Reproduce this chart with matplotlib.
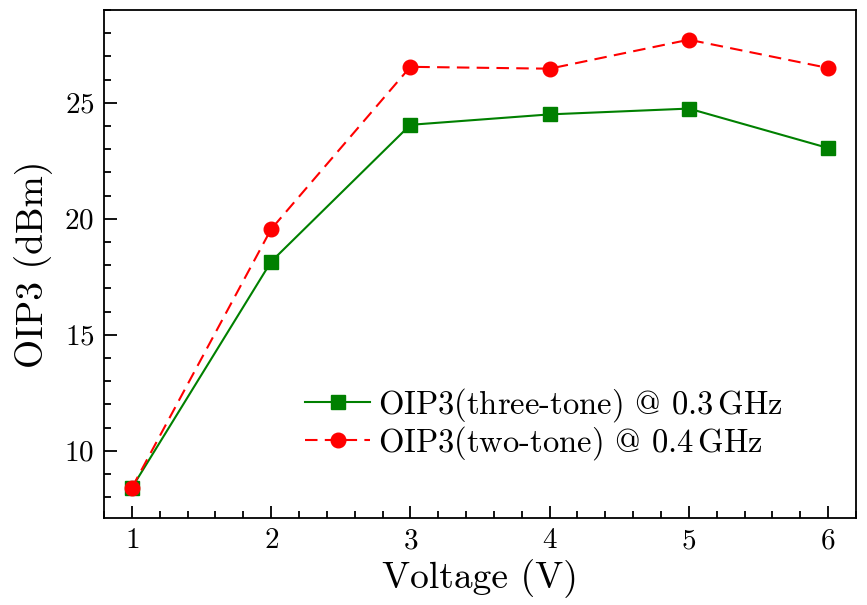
import matplotlib
matplotlib.use("Agg")
import matplotlib.pyplot as plt
from matplotlib.ticker import MultipleLocator

plt.rcParams['font.family'] = ['cmr10', 'DejaVu Serif']
plt.rcParams['mathtext.fontset'] = 'cm'
plt.rcParams['axes.formatter.use_mathtext'] = True

voltage = [1, 2, 3, 4, 5, 6]
three_tone = [8.4, 18.15, 24.05, 24.5, 24.75, 23.05]
two_tone = [8.4, 19.55, 26.55, 26.47, 27.72, 26.5]
label_three = "OIP3(three-tone) @ 0.3$\\,$GHz"
label_two = "OIP3(two-tone) @ 0.4$\\,$GHz"

fig = plt.figure(figsize=(8.67, 6.05), dpi=100)
ax = fig.add_axes([104/867, 1-518/605, (856-104)/867, (518-10)/605])

ax.plot(voltage, three_tone, color='green', linestyle='-', marker='s',
        markersize=9.5, linewidth=1.5, label=label_three)
ax.plot(voltage, two_tone, color='red', linestyle=(0, (6, 3.5)), marker='o',
        markersize=10.5, linewidth=1.5, label=label_two)

ax.set_xlim(0.8, 6.2)
ax.set_ylim(7.1, 29.0)
ax.xaxis.set_major_locator(MultipleLocator(1))
ax.xaxis.set_minor_locator(MultipleLocator(0.2))
ax.yaxis.set_major_locator(MultipleLocator(5))
ax.yaxis.set_minor_locator(MultipleLocator(1))
ax.tick_params(which='both', direction='in', top=False, right=False, labelsize=21, width=1.3)
ax.tick_params(which='major', length=9, pad=7)
ax.tick_params(which='minor', length=5)
for s in ax.spines.values():
    s.set_linewidth(1.3)

ax.set_xlabel('Voltage (V)', fontsize=27, labelpad=4)
ax.set_ylabel('OIP3 (dBm)', fontsize=27, labelpad=8)

ax.legend(loc='upper left', bbox_to_anchor=(305/867, 1-386/605), bbox_transform=fig.transFigure,
          frameon=False, fontsize=23.5, borderpad=0, borderaxespad=0,
          handlelength=2.0, handletextpad=0.25, labelspacing=0.0)

fig.savefig('out.png', dpi=100)
